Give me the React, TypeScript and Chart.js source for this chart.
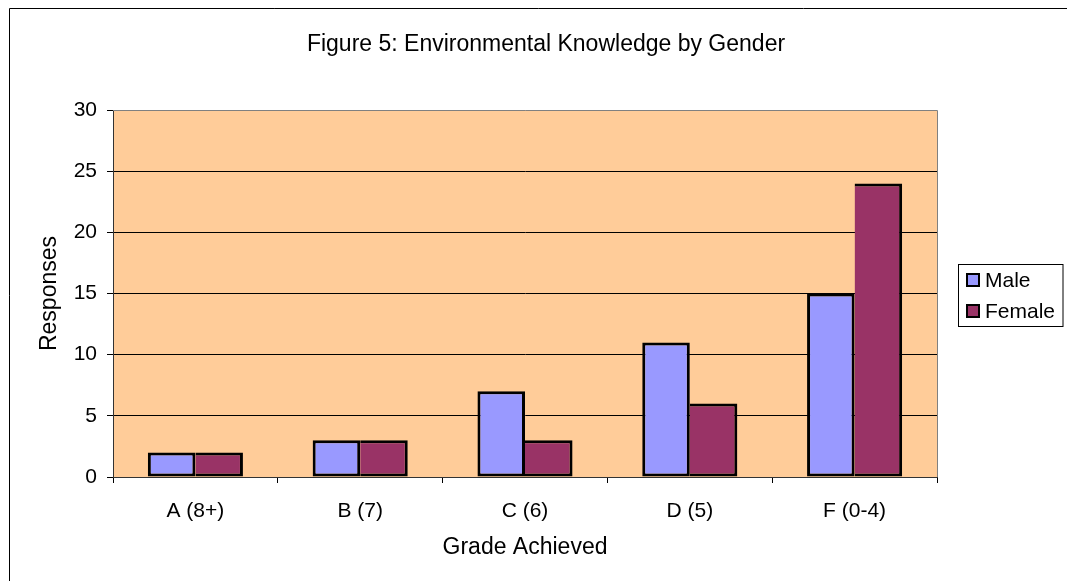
import { useEffect, useRef } from "react";
import { Chart, registerables } from "chart.js";

Chart.register(...registerables);

const TITLE = "Figure 5: Environmental Knowledge by Gender";
const X_TITLE = "Grade Achieved";
const Y_TITLE = "Responses";
const categories = ["A (8+)", "B (7)", "C (6)", "D (5)", "F (0-4)"];
const seriesNames = ["Male", "Female"];
const maleValues = [2, 3, 7, 11, 15];
const femaleValues = [2, 3, 3, 6, 24];
const yMin = 0;
const yMax = 30;
const yStep = 5;

const FONT = "'Liberation Sans', Arial, sans-serif";
const MALE_COLOR = "#9999FF";
const FEMALE_COLOR = "#993366";
const PLOT_BG = "#FFCC99";

const decoPlugin = {
  id: "deco",
  beforeDraw(chart: any) {
    const { ctx, chartArea: a } = chart;
    ctx.save();
    ctx.fillStyle = "#ffffff";
    ctx.fillRect(0, 0, chart.width, chart.height);
    ctx.fillStyle = PLOT_BG;
    ctx.fillRect(a.left, a.top, a.right - a.left, a.bottom - a.top);
    ctx.restore();
  },
  afterDraw(chart: any) {
    const { ctx, chartArea: a } = chart;
    ctx.save();
    // plot top & right border
    ctx.strokeStyle = "#808080";
    ctx.lineWidth = 1;
    ctx.beginPath();
    ctx.moveTo(a.left, Math.round(a.top) + 0.5);
    ctx.lineTo(Math.round(a.right) + 0.5, Math.round(a.top) + 0.5);
    ctx.lineTo(Math.round(a.right) + 0.5, a.bottom);
    ctx.stroke();

    // outer chart border (left & top visible)
    ctx.strokeStyle = "#000000";
    ctx.beginPath();
    ctx.moveTo(9.5, chart.height + 2);
    ctx.lineTo(9.5, 8.5);
    ctx.lineTo(chart.width + 2, 8.5);
    ctx.stroke();

    // title
    ctx.fillStyle = "#000";
    ctx.font = `23px ${FONT}`;
    ctx.textAlign = "center";
    ctx.textBaseline = "middle";
    ctx.fillText(TITLE, 546, 45);

    // legend
    const lx = 958.5;
    const ly = 264.5;
    ctx.strokeStyle = "#000";
    ctx.lineWidth = 1;
    ctx.strokeRect(lx, ly, 1063 - lx, 326.5 - ly);
    const ds = chart.data.datasets;
    ctx.font = `21px ${FONT}`;
    ctx.textAlign = "left";
    ds.forEach((d: any, i: number) => {
      const cy = 280 + i * 31;
      ctx.fillStyle = "#000";
      ctx.fillRect(966, cy - 7, 14, 14);
      ctx.fillStyle = d.backgroundColor;
      ctx.fillRect(968, cy - 5, 10, 10);
      ctx.fillStyle = "#000";
      ctx.fillText(d.label, 985, cy + 1);
    });
    ctx.restore();
  },
};

export default function App() {
  const ref = useRef<HTMLCanvasElement | null>(null);
  useEffect(() => {
    if (!ref.current) return;
    const chart = new Chart(ref.current, {
      type: "bar",
      data: {
        labels: categories,
        datasets: [
          {
            label: seriesNames[0],
            data: maleValues,
            backgroundColor: MALE_COLOR,
            borderColor: "#000",
            borderWidth: { top: 3, right: 3, bottom: 3, left: 3 },
            borderSkipped: false,
            barPercentage: 1,
            categoryPercentage: 0.577,
          },
          {
            label: seriesNames[1],
            data: femaleValues,
            backgroundColor: FEMALE_COLOR,
            borderColor: "#000",
            borderWidth: { top: 3, right: 3, bottom: 3, left: 0 },
            borderSkipped: false,
            barPercentage: 1,
            categoryPercentage: 0.577,
          },
        ],
      },
      options: {
        responsive: false,
        animation: false,
        devicePixelRatio: 1,
        layout: { padding: { left: 0, top: 110, right: 130, bottom: 0 } },
        plugins: {
          legend: { display: false },
          title: { display: false },
          tooltip: { enabled: false },
        },
        scales: {
          x: {
            type: "category",
            offset: true,
            afterFit: (s: any) => {
              s.height = 104;
            },
            grid: {
              offset: true,
              drawOnChartArea: false,
              drawTicks: true,
              tickLength: 6,
              color: "#000",
              tickColor: "#000",
            },
            border: { display: true, color: "#333333", width: 1 },
            ticks: {
              color: "#000",
              font: { family: FONT, size: 21 },
              padding: 16,
              maxRotation: 0,
              autoSkip: false,
            },
            title: {
              display: true,
              text: X_TITLE,
              color: "#000",
              font: { family: FONT, size: 23 },
              padding: { top: 0, bottom: 20 },
            },
          },
          y: {
            min: yMin,
            max: yMax,
            afterFit: (s: any) => {
              s.width = 113;
            },
            grid: {
              drawTicks: true,
              tickLength: 6,
              color: (c: any) => (c.tick && c.tick.value === yMax ? "rgba(0,0,0,0)" : "#000"),
              tickColor: "#000",
              lineWidth: 1,
            },
            border: { display: true, color: "#333333", width: 1 },
            ticks: {
              stepSize: yStep,
              color: "#000",
              font: { family: FONT, size: 21 },
              padding: 10,
            },
            title: {
              display: true,
              text: Y_TITLE,
              color: "#000",
              font: { family: FONT, size: 23 },
              padding: { top: 36, bottom: 0 },
            },
          },
        },
      },
      plugins: [decoPlugin],
    });
    return () => chart.destroy();
  }, []);
  return (
    <canvas
      ref={ref}
      width={1067}
      height={581}
      style={{ position: "fixed", left: 0, top: 0, width: 1067, height: 581 }}
    />
  );
}
